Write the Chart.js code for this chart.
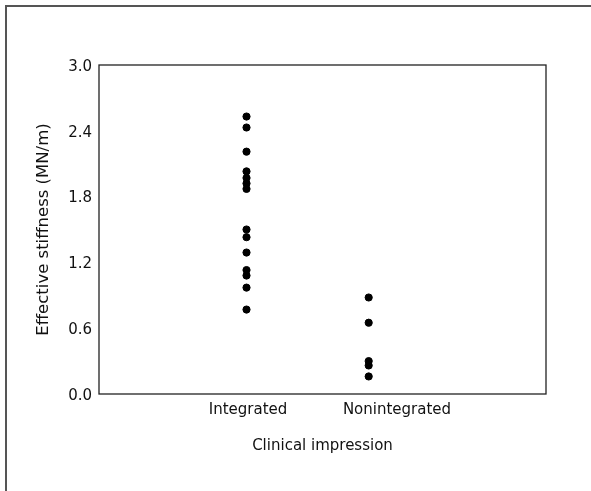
<!DOCTYPE html>
<html>
<head>
<meta charset="utf-8">
<style>
  html, body { margin: 0; padding: 0; background: #fff; }
  #wrap { width: 591px; height: 491px; }
</style>
<script src="https://cdn.jsdelivr.net/npm/chart.js@4/dist/chart.umd.min.js"></script>
</head>
<body>
<div id="wrap"><canvas id="stiffChart" width="591" height="491"></canvas></div>
<script>
const groups = ['Integrated', 'Nonintegrated'];
const groupPos = [0.99, 1.81]; // where each group's dots sit on the x scale
const integrated = [2.53, 2.43, 2.21, 2.03, 1.97, 1.92, 1.87, 1.50, 1.43, 1.29, 1.13, 1.08, 0.97, 0.77];
const nonintegrated = [0.88, 0.65, 0.30, 0.26, 0.16];
const yTicks = [0, 0.6, 1.2, 1.8, 2.4, 3.0];

const font = { family: '"DejaVu Sans", sans-serif', size: 15 };

// white page, the figure frame and the box round the plot
const framePlugin = {
  id: 'frame',
  beforeDraw(chart) {
    const c = chart.ctx;
    c.save();
    c.fillStyle = '#fff';
    c.fillRect(0, 0, chart.width, chart.height);
    c.strokeStyle = '#555';
    c.lineWidth = 2;
    c.beginPath();
    c.moveTo(6, chart.height);
    c.lineTo(6, 6);
    c.lineTo(chart.width, 6);
    c.stroke();
    c.restore();
  },
  afterDatasetsDraw(chart) {
    const a = chart.chartArea;
    const c = chart.ctx;
    c.save();
    c.strokeStyle = '#222';
    c.lineWidth = 1.3;
    c.strokeRect(a.left, a.top, a.right - a.left, a.bottom - a.top);
    c.restore();
  }
};

const ctx = document.getElementById('stiffChart').getContext('2d');
new Chart(ctx, {
  type: 'scatter',
  data: {
    datasets: [integrated, nonintegrated].map((vals, i) => ({
      label: groups[i],
      data: vals.map(v => ({ x: groupPos[i], y: v })),
      backgroundColor: '#000',
      borderColor: '#000',
      pointRadius: 3.6,
      pointHoverRadius: 3.6
    }))
  },
  options: {
    responsive: false,
    animation: false,
    layout: { padding: { left: 0, top: 65, right: 45, bottom: 0 } },
    plugins: {
      legend: { display: false },
      tooltip: { enabled: false }
    },
    scales: {
      x: {
        type: 'linear',
        min: 0,
        max: 3,
        afterBuildTicks: s => { s.ticks = groups.map((g, i) => ({ value: i + 1 })); },
        afterFit: s => { s.height = 97; },
        grid: { display: false, drawTicks: false },
        border: { display: false },
        ticks: {
          color: '#111',
          font: font,
          padding: 7,
          maxRotation: 0,
          callback: v => groups[v - 1]
        },
        title: {
          display: true,
          text: 'Clinical impression',
          color: '#111',
          font: font,
          padding: { top: 0, bottom: 36 }
        }
      },
      y: {
        min: 0,
        max: 3,
        afterBuildTicks: s => { s.ticks = yTicks.map(v => ({ value: v })); },
        afterFit: s => { s.width = 99; },
        grid: { display: false, drawTicks: false },
        border: { display: false },
        ticks: {
          color: '#111',
          font: font,
          padding: 7,
          labelOffset: 2,
          callback: v => v.toFixed(1)
        },
        title: {
          display: true,
          text: 'Effective stiffness (MN/m)',
          color: '#111',
          font: { family: font.family, size: 16.5 },
          padding: { top: 34, bottom: 0 }
        }
      }
    }
  },
  plugins: [framePlugin]
});
</script>
</body>
</html>
